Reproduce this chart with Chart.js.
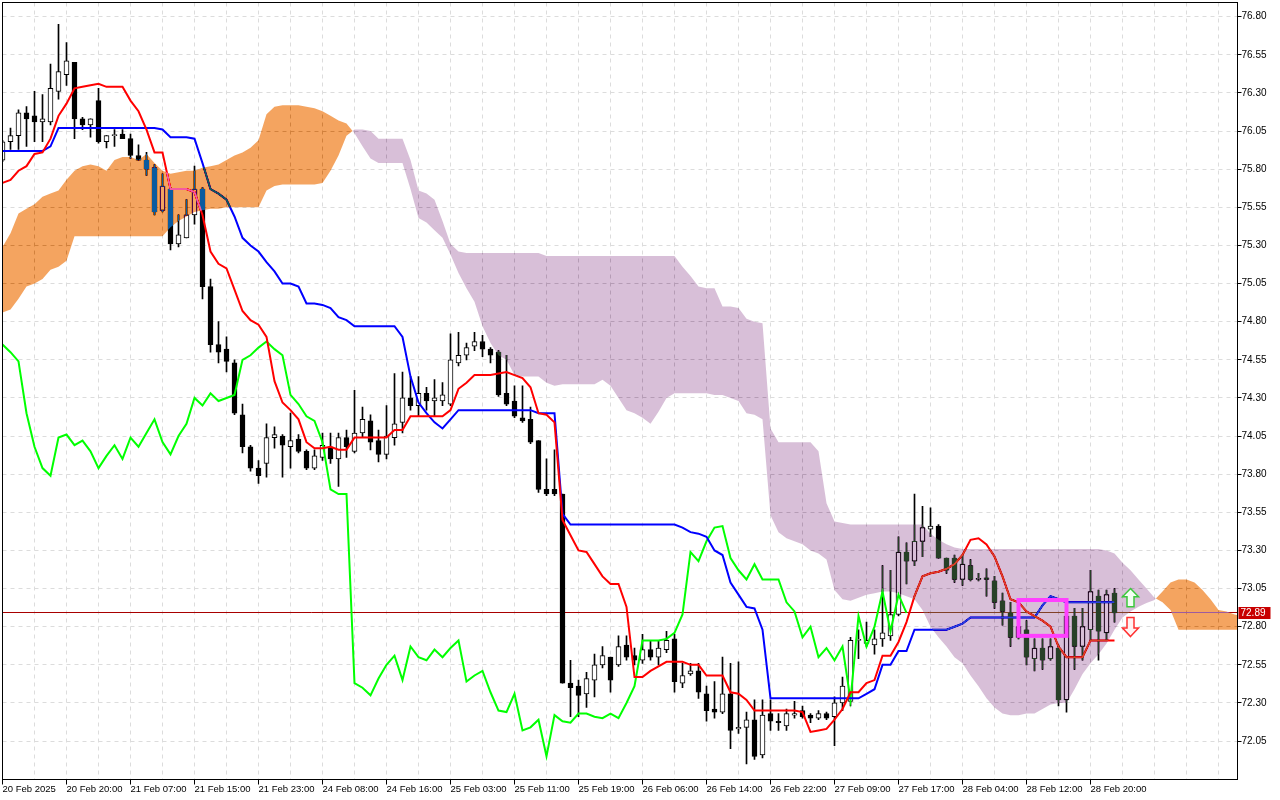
<!DOCTYPE html>
<html><head><meta charset="utf-8">
<script src="https://cdn.jsdelivr.net/npm/chart.js@4.4.1/dist/chart.umd.min.js"></script>
<style>html,body{margin:0;padding:0;background:#fff;overflow:hidden}canvas{display:block}</style>
</head><body>
<canvas id="c" width="1280" height="800" style="width:1280px;height:800px"></canvas>
<script>
// ---- data (H1 bars, index 0 = 20 Feb 2025 12:00) ----
const OPEN = [
75.86,75.98,76.02,76.17,76.15,76.11,76.11,76.31,76.42,76.50,
76.13,76.09,76.25,75.98,76.02,76.03,76.00,75.89,75.86,75.81,
75.53,75.67,75.31,75.35,75.50,75.67,75.03,74.65,74.62,74.53,
74.19,73.98,73.84,73.87,74.04,74.05,73.98,74.03,73.95,73.84,
73.91,73.98,73.90,74.04,73.95,74.07,74.15,74.02,73.93,74.04,
74.14,74.30,74.25,74.33,74.28,74.28,74.26,74.53,74.58,74.64,
74.67,74.62,74.60,74.33,74.28,74.17,74.16,74.02,73.70,73.70,
73.67,72.43,72.41,72.36,72.45,72.55,72.60,72.55,72.68,72.61,
72.58,72.65,72.60,72.65,72.72,72.43,72.49,72.51,72.36,72.26,
72.24,72.36,72.13,72.14,72.19,71.96,72.23,72.18,72.15,72.22,
72.25,72.22,72.20,72.23,72.21,72.30,72.31,72.71,72.69,72.68,
72.72,72.74,72.88,73.29,73.23,73.36,73.44,73.46,73.25,73.25,
73.11,73.20,73.11,73.12,73.10,72.97,72.89,72.73,72.78,72.59,
72.66,72.59,72.66,72.32,72.87,72.67,72.78,73.00,72.76,73.02];
const HIGH = [
75.99,76.07,76.19,76.21,76.31,76.29,76.49,76.75,76.63,76.50,
76.14,76.13,76.33,76.02,76.06,76.06,76.03,75.96,75.91,75.83,
75.77,75.68,75.50,75.60,75.82,75.68,75.08,74.80,74.70,74.55,
74.26,73.99,73.89,74.13,74.11,74.06,74.20,74.06,73.96,73.96,
74.07,74.07,74.07,74.09,74.35,74.24,74.19,74.09,74.25,74.46,
74.47,74.44,74.44,74.37,74.42,74.40,74.72,74.73,74.66,74.73,
74.71,74.63,74.61,74.58,74.38,74.38,74.24,74.02,73.90,73.96,
73.67,72.58,72.45,72.50,72.62,72.67,72.60,72.74,72.74,72.66,
72.75,72.71,72.71,72.77,72.75,72.56,72.56,72.56,72.41,72.44,
72.60,72.56,72.57,72.24,72.32,72.32,72.32,72.23,72.26,72.31,
72.28,72.23,72.25,72.24,72.34,72.47,72.73,72.78,72.83,72.78,
73.20,73.17,73.39,73.35,73.67,73.59,73.58,73.47,73.25,73.27,
73.27,73.24,73.15,73.18,73.13,73.02,72.96,72.84,72.84,72.72,
72.72,72.72,72.68,72.92,72.92,72.92,73.17,73.04,73.04,73.05];
const LOW = [
75.85,75.93,75.93,75.95,75.98,75.98,76.09,76.26,76.35,76.00,
76.06,76.01,75.97,75.94,75.95,76.00,75.87,75.86,75.76,75.50,
75.52,75.27,75.29,75.35,75.44,74.95,74.60,74.53,74.47,74.19,
73.94,73.82,73.74,73.78,73.97,73.78,73.84,73.94,73.83,73.83,
73.89,73.87,73.72,73.91,73.94,74.04,73.96,73.88,73.90,73.99,
74.07,74.22,74.18,74.22,74.18,74.25,74.25,74.51,74.55,74.61,
74.57,74.53,74.31,74.25,74.17,74.14,74.00,73.68,73.66,73.66,
72.43,72.21,72.21,72.27,72.34,72.53,72.37,72.54,72.58,72.55,
72.56,72.58,72.55,72.63,72.37,72.40,72.48,72.33,72.18,72.20,
72.23,72.00,72.10,71.90,71.93,71.94,72.12,72.12,72.12,72.20,
72.20,72.17,72.19,72.19,72.02,72.25,72.28,72.59,72.67,72.62,
72.67,72.71,72.87,73.08,73.20,73.26,73.39,73.25,73.15,73.09,
73.07,73.10,73.10,73.00,72.92,72.81,72.67,72.72,72.55,72.51,
72.52,72.58,72.28,72.24,72.52,72.58,72.71,72.58,72.71,72.83];
const CLOSE = [
75.98,76.02,76.17,76.13,76.11,76.13,76.33,76.44,76.51,76.13,
76.09,76.13,75.98,76.02,76.02,76.00,75.89,75.86,75.80,75.52,
75.69,75.31,75.37,75.50,75.67,75.03,74.65,74.60,74.54,74.20,
73.98,73.84,73.79,74.04,74.06,73.99,74.02,73.95,73.84,73.92,
73.99,73.90,74.04,73.98,74.07,74.16,74.01,73.93,74.05,74.13,
74.30,74.25,74.33,74.28,74.30,74.32,74.55,74.58,74.63,74.67,
74.62,74.58,74.32,74.26,74.18,74.15,74.01,73.70,73.67,73.67,
72.43,72.40,72.35,72.46,72.55,72.61,72.45,72.67,72.60,72.58,
72.65,72.60,72.66,72.71,72.44,72.48,72.51,72.37,72.25,72.24,
72.36,72.12,72.14,72.19,71.95,72.22,72.18,72.17,72.23,72.23,
72.21,72.20,72.23,72.20,72.30,72.41,72.71,72.71,72.71,72.72,
72.76,72.88,73.29,73.23,73.36,73.45,73.46,73.25,73.17,73.11,
73.21,73.11,73.11,73.11,72.96,72.90,72.73,72.80,72.60,72.66,
72.58,72.67,72.32,72.87,72.67,72.80,73.03,72.77,73.01,72.89];
const TENKAN = [
75.71,75.73,75.79,75.82,75.90,75.91,76.00,76.15,76.23,76.33,
76.34,76.35,76.36,76.34,76.34,76.34,76.25,76.18,76.06,75.91,
75.91,75.67,75.67,75.67,75.65,75.50,75.26,75.18,75.15,75.01,
74.87,74.81,74.78,74.70,74.41,74.27,74.22,74.16,74.01,73.97,
73.97,73.98,73.96,73.96,74.04,74.04,74.04,74.04,74.04,74.09,
74.09,74.18,74.18,74.18,74.18,74.18,74.22,74.36,74.40,74.45,
74.45,74.45,74.46,74.47,74.45,74.43,74.37,74.20,74.19,74.14,
73.50,73.40,73.30,73.29,73.21,73.13,73.08,73.08,72.93,72.47,
72.47,72.51,72.54,72.57,72.57,72.57,72.55,72.55,72.48,72.48,
72.48,72.37,72.36,72.32,72.25,72.25,72.25,72.25,72.25,72.25,
72.24,72.11,72.12,72.13,72.19,72.26,72.37,72.37,72.43,72.45,
72.61,72.61,72.70,72.83,73.00,73.13,73.15,73.16,73.18,73.21,
73.27,73.37,73.38,73.34,73.26,73.13,72.98,72.96,72.90,72.87,
72.84,72.80,72.67,72.60,72.60,72.60,72.71,72.71,72.71,72.71];
const KIJUN = [
75.92,75.92,75.92,75.92,75.92,75.92,75.95,76.07,76.07,76.07,
76.07,76.07,76.07,76.07,76.07,76.07,76.07,76.07,76.07,76.07,
76.06,76.01,76.01,76.01,76.00,75.84,75.67,75.64,75.60,75.49,
75.35,75.30,75.26,75.19,75.13,75.05,75.05,75.03,74.92,74.92,
74.91,74.89,74.83,74.81,74.77,74.77,74.77,74.77,74.77,74.77,
74.70,74.44,74.27,74.20,74.14,74.10,74.16,74.22,74.22,74.22,
74.22,74.22,74.22,74.22,74.22,74.22,74.22,74.20,74.20,74.20,
73.54,73.47,73.47,73.47,73.47,73.47,73.47,73.47,73.47,73.47,
73.47,73.47,73.47,73.47,73.47,73.45,73.42,73.41,73.39,73.30,
73.27,73.09,73.01,72.93,72.92,72.78,72.33,72.33,72.33,72.33,
72.33,72.33,72.33,72.33,72.33,72.33,72.33,72.33,72.36,72.39,
72.55,72.55,72.64,72.64,72.78,72.78,72.78,72.78,72.78,72.80,
72.82,72.86,72.86,72.86,72.86,72.86,72.86,72.86,72.86,72.86,
72.94,73.00,72.98,72.96,72.96,72.96,72.96,72.96,72.96,72.96];
// Senkou spans as displayed (already shifted 26 bars forward)
const SENKOU_A = [
75.29,75.38,75.51,75.54,75.57,75.62,75.64,75.66,75.73,75.79,
75.82,75.83,75.82,75.79,75.86,75.88,75.88,75.86,75.90,75.84,
75.79,75.77,75.78,75.79,75.79,75.81,75.82,75.83,75.86,75.89,
75.91,75.94,75.99,76.16,76.21,76.22,76.22,76.22,76.21,76.20,
76.18,76.15,76.12,76.10,76.035,75.95,75.87,75.84,75.84,75.84,
75.84,75.67,75.48,75.45,75.40,75.35,75.24,75.12,75.02,74.93,
74.77,74.66,74.58,74.55,74.45,74.44,74.44,74.44,74.40,74.38,
74.39,74.39,74.39,74.39,74.39,74.42,74.38,74.30,74.22,74.20,
74.17,74.13,74.21,74.30,74.33,74.33,74.33,74.33,74.33,74.32,
74.32,74.30,74.28,74.20,74.19,74.16,73.53,73.42,73.38,73.36,
73.34,73.30,73.28,73.24,73.04,72.98,72.97,72.99,73.01,73.02,
73.03,73.03,73.02,73.00,72.98,72.91,72.80,72.73,72.67,72.60,
72.56,72.48,72.41,72.33,72.27,72.23,72.22,72.22,72.23,72.23,
72.26,72.29,72.30,72.30,72.39,72.49,72.56,72.62,72.69,72.78,
72.86,72.90,72.93,72.955,72.975,73.03,73.09,73.11,73.11,73.09,
73.04,72.98,72.91,72.90,72.88,72.87];
const SENKOU_B = [
74.86,74.88,74.95,75.03,75.05,75.08,75.14,75.16,75.20,75.36,
75.36,75.36,75.36,75.36,75.36,75.36,75.36,75.36,75.36,75.36,
75.36,75.42,75.46,75.49,75.52,75.53,75.54,75.54,75.55,75.55,
75.55,75.55,75.55,75.66,75.69,75.70,75.70,75.70,75.70,75.70,
75.71,75.79,75.89,76.02,76.06,76.06,76.05,76.00,76.00,76.00,
76.00,75.86,75.66,75.64,75.60,75.46,75.31,75.26,75.25,75.25,
75.25,75.25,75.25,75.25,75.25,75.25,75.25,75.25,75.23,75.23,
75.23,75.23,75.23,75.23,75.23,75.23,75.23,75.23,75.23,75.23,
75.23,75.23,75.23,75.23,75.23,75.16,75.10,75.03,75.02,75.02,
74.90,74.90,74.89,74.82,74.80,74.79,74.10,74.01,74.01,74.01,
74.01,74.01,73.95,73.61,73.49,73.48,73.47,73.47,73.47,73.47,
73.47,73.47,73.47,73.47,73.47,73.47,73.41,73.37,73.34,73.32,
73.31,73.31,73.31,73.31,73.31,73.31,73.31,73.31,73.31,73.31,
73.31,73.31,73.31,73.31,73.31,73.31,73.31,73.31,73.30,73.28,
73.22,73.17,73.11,73.05,72.99,72.96,72.91,72.78,72.78,72.78,
72.78,72.78,72.78,72.78,72.78,72.78];
const CHIKOU_SHIFT = 26;
const TIME_LABELS = ["20 Feb 2025","20 Feb 20:00","21 Feb 07:00","21 Feb 15:00","21 Feb 23:00","24 Feb 08:00",
  "24 Feb 16:00","25 Feb 03:00","25 Feb 11:00","25 Feb 19:00","26 Feb 06:00","26 Feb 14:00","26 Feb 22:00",
  "27 Feb 09:00","27 Feb 17:00","28 Feb 04:00","28 Feb 12:00","28 Feb 20:00"];
const LABEL_EVERY = 8;
const GRID_EVERY = 4;
const PRICE_TICKS = [72.05,72.30,72.55,72.80,73.05,73.30,73.55,73.80,74.05,74.30,74.55,74.80,75.05,75.30,75.55,75.80,76.05,76.30,76.55,76.80];
const LAST_PRICE = 72.89;
const BOX = {fromBar:127, toBar:133, hi:72.975, lo:72.74};
const ARROW_BAR = 141;
const UP_ARROW = {tip:73.05, base:72.93};
const DOWN_ARROW = {top:72.86, tip:72.735};

// ---- chart ----
const FONT = "'Liberation Sans', Arial, sans-serif";
const bars = OPEN.map((_, i) => i);
const wickData = bars.map(i => ({x: i, y: [LOW[i], HIGH[i]]}));
const bodyData = bars.map(i => ({x: i, y: [OPEN[i], CLOSE[i]]}));
const bodyColors = bars.map(i => CLOSE[i] >= OPEN[i] ? '#ffffff' : '#000000');
const labelBars = TIME_LABELS.map((_, k) => k * LABEL_EVERY);

function crisp(v) { return Math.round(v - 0.5) + 0.5; }

const drawPlugin = {
  id: 'ichimokuDraw',
  beforeDraw(chart) {
    const c = chart.ctx;
    c.save(); c.fillStyle = '#ffffff'; c.fillRect(0, 0, chart.width, chart.height); c.restore();
  },
  beforeDatasetsDraw(chart) {
    const {ctx, chartArea: a, scales: {x, y}} = chart;
    ctx.save();
    ctx.beginPath(); ctx.rect(a.left, a.top, a.right - a.left, a.bottom - a.top); ctx.clip();
    ctx.strokeStyle = '#dcdcdc'; ctx.lineWidth = 1; ctx.setLineDash([4, 4]);
    ctx.beginPath();
    for (let b = 0; b <= x.max; b += GRID_EVERY) {
      const px = x.getPixelForValue(b);
      ctx.moveTo(px, a.top); ctx.lineTo(px, a.bottom);
    }
    PRICE_TICKS.forEach(v => {
      const py = crisp(y.getPixelForValue(v));
      ctx.moveTo(a.left, py); ctx.lineTo(a.right, py);
    });
    ctx.stroke();
    ctx.setLineDash([]);
    ctx.strokeStyle = '#a80000';
    ctx.beginPath();
    const lp = crisp(y.getPixelForValue(LAST_PRICE));
    ctx.moveTo(a.left, lp); ctx.lineTo(a.right, lp); ctx.stroke();
    ctx.restore();
  },
  afterDatasetsDraw(chart) {
    const {ctx, chartArea: a, scales: {x, y}} = chart;
    ctx.save();
    ctx.beginPath(); ctx.rect(a.left, a.top, a.right - a.left, a.bottom - a.top); ctx.clip();
    // Kumo: drawn in 'difference' mode like the terminal's XOR-style cloud
    const up = new Path2D(), dn = new Path2D();
    const poly = (p, pts) => { p.moveTo(pts[0], pts[1]); for (let k = 2; k < pts.length; k += 2) p.lineTo(pts[k], pts[k + 1]); p.closePath(); };
    for (let i = 0; i < SENKOU_A.length - 1; i++) {
      const x0 = x.getPixelForValue(i), x1 = x.getPixelForValue(i + 1);
      const a0 = y.getPixelForValue(SENKOU_A[i]), b0 = y.getPixelForValue(SENKOU_B[i]);
      const a1 = y.getPixelForValue(SENKOU_A[i + 1]), b1 = y.getPixelForValue(SENKOU_B[i + 1]);
      const d0 = SENKOU_A[i] - SENKOU_B[i], d1 = SENKOU_A[i + 1] - SENKOU_B[i + 1];
      if (d0 >= 0 && d1 >= 0) poly(up, [x0, a0, x1, a1, x1, b1, x0, b0]);
      else if (d0 <= 0 && d1 <= 0) poly(dn, [x0, a0, x1, a1, x1, b1, x0, b0]);
      else {
        const t = d0 / (d0 - d1);
        const xc = x0 + t * (x1 - x0), yc = a0 + t * (a1 - a0);
        poly(d0 > 0 ? up : dn, [x0, a0, xc, yc, x0, b0]);
        poly(d1 > 0 ? up : dn, [xc, yc, x1, a1, x1, b1]);
      }
    }
    ctx.globalCompositeOperation = 'difference';
    ctx.fillStyle = 'rgb(11,91,159)';   // inverse of sandybrown
    ctx.fill(up);
    ctx.fillStyle = 'rgb(39,64,39)';    // inverse of thistle
    ctx.fill(dn);
    ctx.globalCompositeOperation = 'source-over';
    // rectangle object
    ctx.strokeStyle = '#ff40ff'; ctx.lineWidth = 4;
    const rx0 = x.getPixelForValue(BOX.fromBar), rx1 = x.getPixelForValue(BOX.toBar);
    const ry0 = y.getPixelForValue(BOX.hi), ry1 = y.getPixelForValue(BOX.lo);
    ctx.strokeRect(rx0, ry0, rx1 - rx0, ry1 - ry0);
    // arrows
    const ax = x.getPixelForValue(ARROW_BAR);
    const arrow = (yTip, yBase, stroke, fill) => {
      const dir = yBase > yTip ? 1 : -1;
      const hh = Math.abs(yBase - yTip) * 0.45;
      const yh = yTip + dir * hh;
      ctx.beginPath();
      ctx.moveTo(ax, yTip); ctx.lineTo(ax + 8, yh); ctx.lineTo(ax + 3.5, yh); ctx.lineTo(ax + 3.5, yBase);
      ctx.lineTo(ax - 3.5, yBase); ctx.lineTo(ax - 3.5, yh); ctx.lineTo(ax - 8, yh); ctx.closePath();
      ctx.fillStyle = fill; ctx.fill();
      ctx.strokeStyle = stroke; ctx.lineWidth = 1.5; ctx.stroke();
    };
    arrow(y.getPixelForValue(UP_ARROW.tip), y.getPixelForValue(UP_ARROW.base), '#3cc83c', '#f2fff2');
    arrow(y.getPixelForValue(DOWN_ARROW.tip), y.getPixelForValue(DOWN_ARROW.top), '#ff3030', '#fff2f2');
    ctx.restore();
  },
  afterDraw(chart) {
    const {ctx, chartArea: a, scales: {x, y}} = chart;
    ctx.save();
    ctx.strokeStyle = '#000'; ctx.lineWidth = 1;
    ctx.strokeRect(crisp(a.left), crisp(a.top), Math.round(a.right - a.left), Math.round(a.bottom - a.top));
    ctx.beginPath();
    PRICE_TICKS.forEach(v => { const py = crisp(y.getPixelForValue(v)); ctx.moveTo(a.right, py); ctx.lineTo(a.right + 4, py); });
    labelBars.forEach(b => { const px = x.getPixelForValue(b); ctx.moveTo(px, a.bottom); ctx.lineTo(px, a.bottom + 5); });
    ctx.stroke();
    // last price label
    const py = y.getPixelForValue(LAST_PRICE);
    ctx.fillStyle = '#c80000';
    ctx.fillRect(a.right + 1, Math.round(py) - 6, 32, 12);
    ctx.fillStyle = '#ffffff';
    ctx.font = '10px ' + FONT; ctx.textAlign = 'left'; ctx.textBaseline = 'middle';
    ctx.fillText(LAST_PRICE.toFixed(2), a.right + 3, Math.round(py) + 0.5);
    ctx.restore();
  }
};

new Chart(document.getElementById('c'), {
  type: 'bar',
  data: {
    datasets: [
      {type: 'line', label: 'Tenkan-sen', data: TENKAN.map((v, i) => ({x: i, y: v})), borderColor: '#ff0000', borderWidth: 2, pointRadius: 0, tension: 0, fill: false, order: 1},
      {type: 'line', label: 'Kijun-sen', data: KIJUN.map((v, i) => ({x: i, y: v})), borderColor: '#0000ff', borderWidth: 2, pointRadius: 0, tension: 0, fill: false, order: 1},
      {type: 'line', label: 'Chikou Span', data: CLOSE.slice(CHIKOU_SHIFT).map((v, i) => ({x: i, y: v})), borderColor: '#00ff00', borderWidth: 2, pointRadius: 0, tension: 0, fill: false, order: 1},
      {type: 'bar', label: 'body', data: bodyData, backgroundColor: bodyColors, borderColor: '#000000', borderWidth: 1, borderSkipped: false, barThickness: 5, minBarLength: 1, grouped: false, order: 2},
      {type: 'bar', label: 'wick', data: wickData, backgroundColor: '#000000', borderWidth: 0, barThickness: 1, grouped: false, order: 3}
    ]
  },
  options: {
    responsive: false,
    devicePixelRatio: 1,
    animation: false,
    events: [],
    layout: {padding: {left: 2.5, top: 2.5, right: 0, bottom: 0}},
    plugins: {legend: {display: false}, tooltip: {enabled: false}},
    scales: {
      x: {
        type: 'linear', position: 'bottom', offset: false, min: 0, max: 154.375,
        grid: {display: false, drawTicks: false, tickLength: 0}, border: {display: false},
        afterBuildTicks: ax => { ax.ticks = labelBars.map(v => ({value: v})); },
        afterFit: ax => { ax.height = 20.5; ax.paddingLeft = 0; ax.paddingRight = 0; },
        ticks: {autoSkip: false, maxRotation: 0, minRotation: 0, align: 'start', padding: 4, color: '#000',
          font: {family: FONT, size: 9.5}, callback: (v, idx) => TIME_LABELS[idx]}
      },
      y: {
        type: 'linear', position: 'right', min: 71.798, max: 76.8931,
        grid: {display: false, drawTicks: false, tickLength: 0}, border: {display: false},
        afterBuildTicks: ax => { ax.ticks = PRICE_TICKS.map(v => ({value: v})); },
        afterFit: ax => { ax.width = 42.5; ax.paddingTop = 0; ax.paddingBottom = 0; },
        ticks: {padding: 4, color: '#000', font: {family: FONT, size: 10}, callback: v => Number(v).toFixed(2)}
      }
    }
  },
  plugins: [drawPlugin]
});
</script>
</body></html>
